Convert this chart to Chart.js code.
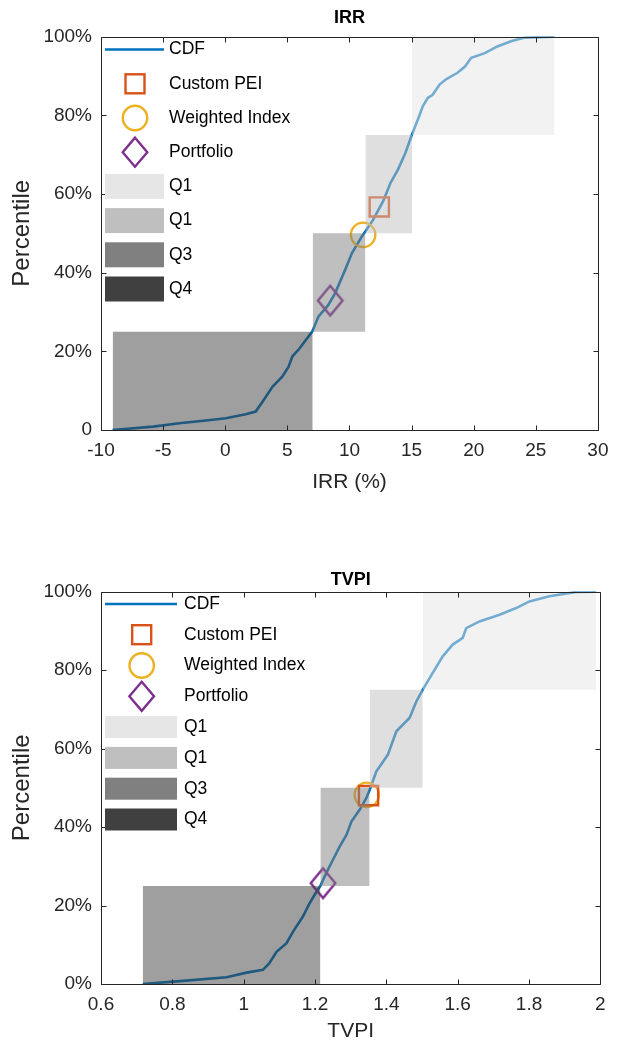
<!DOCTYPE html>
<html><head><meta charset="utf-8">
<script src="https://cdn.jsdelivr.net/npm/chart.js@4.4.0/dist/chart.umd.min.js"></script>
<style>
html,body{margin:0;padding:0;background:#fff;width:618px;height:1044px;overflow:hidden}
.box{position:absolute;left:0;width:618px;height:522px}
</style></head><body>
<div class="box" style="top:0"><canvas id="c1" width="618" height="522"></canvas></div>
<div class="box" style="top:522px"><canvas id="c2" width="618" height="522"></canvas></div>
<script>
// ---------- data ----------
const legendLabels = ['CDF', 'Custom PEI', 'Weighted Index', 'Portfolio', 'Q1', 'Q1', 'Q3', 'Q4'];
const quartileP = [0, 25, 50, 75, 100];

// IRR chart
const irrCdfX = [-9.07, -5.8, -3.7, -1.55, 0.05, 1.65, 2.45, 3.0, 3.8, 4.6, 5.1, 5.4, 5.9, 7.0, 7.5, 8.3, 8.85, 9.65, 10.2, 11.0, 11.9, 12.7, 13.3, 13.9, 14.5, 15.04, 15.6, 15.9, 16.3, 16.7, 17.25, 17.8, 18.7, 19.3, 19.8, 20.9, 21.9, 23.0, 24.05, 26.5];
const irrCdfP = [0, 0.85, 1.7, 2.4, 3.0, 4.0, 4.7, 7.2, 11, 13.6, 16.1, 18.7, 20.4, 25, 28.8, 31.8, 34.8, 40.7, 45, 49.2, 53.4, 58.1, 62.8, 66.2, 70.4, 75.2, 79.7, 82.3, 84.4, 85.2, 87.8, 89.2, 90.8, 92.4, 94.6, 95.8, 97.5, 98.8, 99.7, 100];
const irrQuartX = [-9.06, 7.04, 11.28, 15.04, 26.48];
const irrCustomPEI = [12.4, 56.7];
const irrWeightedIndex = [11.1, 49.6];
const irrPortfolio = [8.45, 32.9];
const irrXTicks = ['-10', '-5', '0', '5', '10', '15', '20', '25', '30'];
const irrYTicks = ['0', '20%', '40%', '60%', '80%', '100%'];

// TVPI chart
const tvpiCdfX = [0.717, 0.83, 0.952, 1.008, 1.054, 1.072, 1.092, 1.12, 1.138, 1.166, 1.185, 1.204, 1.215, 1.231, 1.25, 1.269, 1.288, 1.302, 1.325, 1.344, 1.355, 1.372, 1.404, 1.428, 1.465, 1.484, 1.502, 1.53, 1.558, 1.586, 1.614, 1.624, 1.661, 1.717, 1.764, 1.801, 1.857, 1.932, 1.988];
const tvpiCdfP = [0, 0.8, 1.7, 2.9, 3.6, 5.3, 8.2, 10.4, 13.3, 17.2, 20.6, 23.5, 25, 28.2, 31.6, 35, 38, 41.4, 44.4, 47.4, 49.9, 54.2, 58.4, 64.4, 67.8, 72, 75, 79.3, 83.5, 86.5, 88.2, 90.7, 92.4, 94.1, 95.8, 97.5, 98.8, 99.9, 100];
const tvpiQuartX = [0.717, 1.215, 1.353, 1.502, 1.988];
const tvpiCustomPEI = [1.35, 48.0];
const tvpiWeightedIndex = [1.345, 48.2];
const tvpiPortfolio = [1.2225, 25.7];
const tvpiXTicks = ['0.6', '0.8', '1', '1.2', '1.4', '1.6', '1.8', '2'];
const tvpiYTicks = ['0%', '20%', '40%', '60%', '80%', '100%'];

// ---------- style ----------
const FONT = "'Liberation Sans', Arial, Helvetica, sans-serif";
const TXT = '#262626';
const cdfColor = '#0072BD';
const markerColors = ['#D95319', '#EDB120', '#7E2F8E'];
const quartColors = [[64,64,64], [128,128,128], [191,191,191], [230,230,230]]; // Q4, Q3, Q1, Q1
const legendPatchOrder = [3, 2, 1, 0];
const TICK_SIZE = 19, LABEL_SIZE = 21, YLABEL_SIZE = 24, LEGEND_SIZE = 17.5;

function diamondCanvas(color, hw, hh, lw) {
  const c = document.createElement('canvas');
  c.width = Math.ceil(2 * hw + lw * 2 + 2);
  c.height = Math.ceil(2 * hh + lw * 2 + 2);
  const g = c.getContext('2d');
  const cx = c.width / 2, cy = c.height / 2;
  g.strokeStyle = color; g.lineWidth = lw; g.lineJoin = 'miter';
  g.beginPath();
  g.moveTo(cx, cy - hh); g.lineTo(cx + hw, cy); g.lineTo(cx, cy + hh); g.lineTo(cx - hw, cy); g.closePath();
  g.stroke();
  return c;
}

const boxPlugin = {
  id: 'matlabBox',
  afterDraw(chart, args, opts) {
    const ctx = chart.ctx, a = chart.chartArea;
    const xs = chart.scales.x, ys = chart.scales.y;
    ctx.save();
    ctx.strokeStyle = TXT; ctx.lineWidth = 1;
    const L = Math.round(a.left) + 0.5, R = Math.round(a.right) + 0.5, T = Math.round(a.top) + 0.5, B = Math.round(a.bottom) + 0.5;
    ctx.beginPath();
    ctx.rect(L, T, R - L, B - T);
    const tl = 5;
    xs.ticks.forEach(t => {
      const px = Math.round(xs.getPixelForValue(t.value)) + 0.5;
      ctx.moveTo(px, B); ctx.lineTo(px, B - tl);
      ctx.moveTo(px, T); ctx.lineTo(px, T + tl);
    });
    ys.ticks.forEach(t => {
      const py = Math.round(ys.getPixelForValue(t.value)) + 0.5;
      ctx.moveTo(L, py); ctx.lineTo(L + tl, py);
      ctx.moveTo(R, py); ctx.lineTo(R - tl, py);
    });
    ctx.stroke();

    // legend
    const lg = opts;
    ctx.font = LEGEND_SIZE + 'px ' + FONT;
    ctx.textBaseline = 'middle';
    ctx.textAlign = 'left';
    legendLabels.forEach((lab, i) => {
      const y = a.top + lg.firstRow + i * lg.rowStep;
      ctx.fillStyle = '#000';
      ctx.fillText(lab, lg.textX, y);
      if (i === 0) {
        ctx.strokeStyle = cdfColor; ctx.lineWidth = 2.5;
        ctx.beginPath(); ctx.moveTo(lg.symL, y); ctx.lineTo(lg.symR, y); ctx.stroke();
      } else if (i === 1) {
        ctx.strokeStyle = markerColors[0]; ctx.lineWidth = 2.4;
        ctx.strokeRect(lg.mx - 9.5, y - 9.5, 19, 19);
      } else if (i === 2) {
        ctx.strokeStyle = markerColors[1]; ctx.lineWidth = 2.4;
        ctx.beginPath(); ctx.arc(lg.mx, y, 12.2, 0, Math.PI * 2); ctx.stroke();
      } else if (i === 3) {
        ctx.strokeStyle = markerColors[2]; ctx.lineWidth = 2.4;
        ctx.beginPath(); ctx.moveTo(lg.mx, y - 14.5); ctx.lineTo(lg.mx + 12.3, y); ctx.lineTo(lg.mx, y + 14.5); ctx.lineTo(lg.mx - 12.3, y); ctx.closePath(); ctx.stroke();
      } else {
        const c = quartColors[legendPatchOrder[i - 4]];
        ctx.fillStyle = 'rgb(' + c.join(',') + ')';
        ctx.fillRect(lg.symL, y - lg.patchH / 2, lg.symR - lg.symL, lg.patchH);
      }
    });
    ctx.restore();
  }
};

function makeChart(id, d) {
  const datasets = [];
  datasets.push({
    data: d.cdfX.map((v, i) => ({x: v, y: d.cdfP[i]})),
    borderColor: cdfColor, borderWidth: 2.6, pointRadius: 0, fill: false, tension: 0, order: 3
  });
  const markers = [d.custom, d.weighted, d.portfolio];
  const styles = ['rect', 'circle', diamondCanvas(markerColors[2], 12.3, 14.8, 2.4)];
  const radii = [13.6, 12.2, 15];
  markers.forEach((m, i) => {
    datasets.push({
      data: [{x: m[0], y: m[1]}], showLine: false,
      pointStyle: styles[i], pointRadius: radii[i], pointBorderWidth: 2.4,
      pointBorderColor: markerColors[i], pointBackgroundColor: 'rgba(0,0,0,0)', order: 2
    });
  });
  for (let i = 0; i < 4; i++) {
    const c = quartColors[i];
    datasets.push({
      data: [{x: d.quartX[i], y: quartileP[i + 1]}, {x: d.quartX[i + 1], y: quartileP[i + 1]}],
      borderWidth: 0, borderColor: 'rgba(0,0,0,0)', pointRadius: 0,
      backgroundColor: 'rgba(' + c.join(',') + ',0.5)',
      fill: {value: quartileP[i]}, order: 1
    });
  }
  const chart = new Chart(document.getElementById(id), {
    type: 'line',
    data: {datasets},
    plugins: [boxPlugin],
    options: {
      responsive: false, animation: false, events: [],
      layout: {padding: {left: 0, right: 17, top: 0, bottom: 0}},
      plugins: {
        legend: {display: false}, tooltip: {enabled: false},
        title: {display: true, fullSize: false, text: d.title, color: '#000', font: {family: FONT, size: 18, weight: 'bold'}, padding: d.titlePad},
        matlabBox: d.legend
      },
      scales: {
        x: {
          type: 'linear', min: d.xMin, max: d.xMax,
          ticks: {stepSize: d.xStep, autoSkip: false, maxRotation: 0, color: TXT, font: {family: FONT, size: TICK_SIZE}, padding: 9.5,
            callback: (v, i) => d.xTicks[i]},
          grid: {display: false, drawTicks: false}, border: {display: false},
          title: {display: true, text: d.xTitle, color: TXT, font: {family: FONT, size: LABEL_SIZE}, padding: {top: d.xTitlePad, bottom: d.xTitlePad}},
          afterFit: s => { s.height = d.xAxisH; }
        },
        y: {
          min: 0, max: 100,
          ticks: {stepSize: 20, color: TXT, font: {family: FONT, size: TICK_SIZE}, padding: 9, callback: (v, i) => d.yTicks[i]},
          grid: {display: false, drawTicks: false}, border: {display: false},
          title: {display: true, text: 'Percentile', color: TXT, font: {family: FONT, size: YLABEL_SIZE}, padding: {top: 7.6, bottom: 7.6}},
          afterFit: s => { s.width = 101; }
        }
      }
    }
  });
  // align plot box right edge with reference (x = 600)
  for (let k = 0; k < 2; k++) {
    const diff = chart.chartArea.right - 600;
    if (Math.abs(diff) < 0.5) break;
    chart.options.layout.padding.right += diff;
    chart.update();
  }
  return chart;
}

makeChart('c1', {
  cdfX: irrCdfX, cdfP: irrCdfP, quartX: irrQuartX,
  custom: irrCustomPEI, weighted: irrWeightedIndex, portfolio: irrPortfolio,
  xMin: -10, xMax: 30, xStep: 5, xTicks: irrXTicks, yTicks: irrYTicks,
  title: 'IRR', titlePad: {top: 7, bottom: 8}, xTitle: 'IRR (%)', xTitlePad: 27, xAxisH: 92,
  legend: {firstRow: 13, rowStep: 34.2, symL: 105, symR: 164, mx: 135, textX: 169, patchH: 25}
});
makeChart('c2', {
  cdfX: tvpiCdfX, cdfP: tvpiCdfP, quartX: tvpiQuartX,
  custom: tvpiCustomPEI, weighted: tvpiWeightedIndex, portfolio: tvpiPortfolio,
  xMin: 0.6, xMax: 2, xStep: 0.2, xTicks: tvpiXTicks, yTicks: tvpiYTicks,
  title: 'TVPI', titlePad: {top: 47, bottom: 1}, xTitle: 'TVPI', xTitlePad: 0, xAxisH: 60,
  legend: {firstRow: 12.3, rowStep: 30.8, symL: 105, symR: 177, mx: 141.7, textX: 184, patchH: 22}
});
</script>
</body></html>
